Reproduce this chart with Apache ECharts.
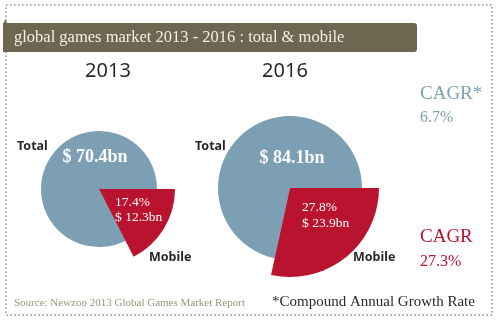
<!DOCTYPE html>
<html><head><meta charset="utf-8">
<script src="https://cdn.jsdelivr.net/npm/echarts@6/dist/echarts.min.js"></script>
<style>html,body{margin:0;padding:0;background:#fff}#c{width:497px;height:322px}</style>
</head><body><div id="c"></div>
<script>
const years = ['2013', '2016'];
const totalValues = [70.4, 84.1];
const mobileValues = [12.3, 23.9];
const mobileShares = ['17.4%', '27.8%'];
const cagrTotal = '6.7%';
const cagrMobile = '27.3%';
const titleText = 'global games market 2013 - 2016 : total & mobile';
const sourceText = 'Source: Newzoo 2013 Global Games Market Report';
const footnoteText = '*Compound Annual Growth Rate';

const BLUE = '#7c9fb4', RED = '#b9132f', DARK = '#2a2a2a';
const centers = [[99, 189], [290, 188]];
const rTotal = [58, 72];
const rMobile = [76, 89];

const series = [];
years.forEach((y, i) => {
  const rest = +(totalValues[i] - mobileValues[i]).toFixed(1);
  series.push({
    type: 'pie', center: centers[i], radius: rTotal[i], startAngle: 0, clockwise: true,
    silent: true, label: {show: false}, labelLine: {show: false}, emphasis: {disabled: true},
    itemStyle: {borderWidth: 0},
    data: [{name: 'Mobile', value: mobileValues[i], itemStyle: {color: BLUE}},
           {name: 'Total', value: rest, itemStyle: {color: BLUE}}]
  });
  series.push({
    type: 'pie', center: centers[i], radius: rMobile[i], startAngle: 0, clockwise: true,
    silent: true, label: {show: false}, labelLine: {show: false}, emphasis: {disabled: true},
    itemStyle: {borderWidth: 0},
    data: [{name: 'Mobile', value: mobileValues[i], itemStyle: {color: RED}},
           {name: 'Total', value: rest, itemStyle: {color: 'rgba(0,0,0,0)'}}]
  });
});

const serif = '"Liberation Serif", serif';
const sans = '"Noto Sans", sans-serif';
function txt(x, y, text, font, size, color, weight, align) {
  return {type: 'text', x: x, y: y, z: 10,
    style: {text: text, fontFamily: font, fontSize: size, fill: color, fontWeight: weight || 'normal',
      textAlign: align || 'left', textVerticalAlign: 'middle'}};
}

const graphic = [
  {type: 'rect', shape: {x: 6, y: 5, width: 486, height: 310}, z: 0,
   style: {fill: 'none', stroke: '#555', lineWidth: 1, lineDash: [1.5, 2.5]}},
  {type: 'rect', shape: {x: 3, y: 23, width: 414, height: 29, r: [0, 3, 3, 0]}, z: 5,
   style: {fill: '#6d6651'}},
  {type: 'polygon', shape: {points: [[4, 23], [7, 23], [5, 19]]}, z: 5, style: {fill: '#6d6651'}},
  txt(14, 38, titleText, serif, 16.5, '#f2efe6'),
  txt(108, 71, years[0], sans, 20, DARK, 'normal', 'center'),
  txt(285, 71, years[1], sans, 20, DARK, 'normal', 'center'),
  txt(17, 146, 'Total', sans, 12.5, DARK, 'bold'),
  txt(195, 146, 'Total', sans, 12.5, DARK, 'bold'),
  txt(149, 257, 'Mobile', sans, 12.5, DARK, 'bold'),
  txt(353, 257, 'Mobile', sans, 12.5, DARK, 'bold'),
  txt(95, 157, '$ ' + totalValues[0] + 'bn', serif, 18, '#ffffff', 'bold', 'center'),
  txt(292, 158, '$ ' + totalValues[1] + 'bn', serif, 18, '#ffffff', 'bold', 'center'),
  txt(115, 202, mobileShares[0], serif, 13.5, '#ffffff'),
  txt(115, 217, '$ ' + mobileValues[0] + 'bn', serif, 13.5, '#ffffff'),
  txt(302, 207, mobileShares[1], serif, 13.5, '#ffffff'),
  txt(302, 223, '$ ' + mobileValues[1] + 'bn', serif, 13.5, '#ffffff'),
  txt(420, 94, 'CAGR*', serif, 19, BLUE),
  txt(420, 118, cagrTotal, serif, 16, BLUE),
  txt(420, 237, 'CAGR', serif, 19, RED),
  txt(420, 262, cagrMobile, serif, 16, RED),
  txt(14, 303, sourceText, serif, 11, '#9b967f'),
  txt(272, 302, footnoteText, serif, 15, DARK)
];

const chart = echarts.init(document.getElementById('c'));
chart.setOption({animation: false, backgroundColor: '#fff', series: series, graphic: graphic});
</script></body></html>
